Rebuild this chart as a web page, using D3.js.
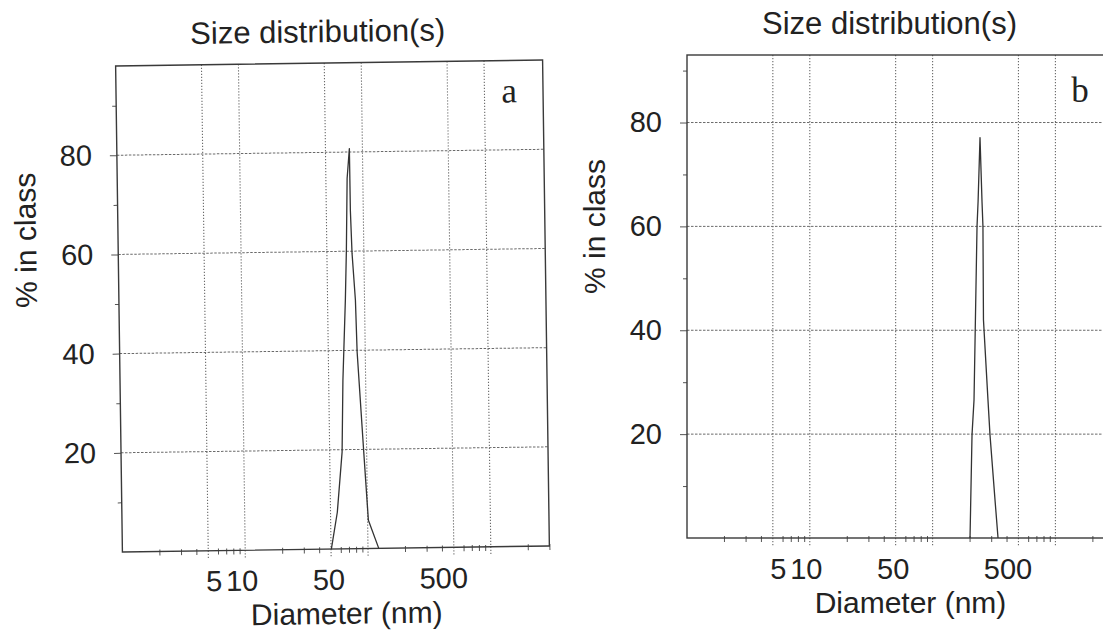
<!DOCTYPE html>
<html>
<head>
<meta charset="utf-8">
<script src="https://cdn.jsdelivr.net/npm/d3@7/dist/d3.min.js"></script>
<style>
  html, body { margin: 0; padding: 0; background: #fff; }
  svg { display: block; }
  text { font-family: "Liberation Sans", Arial, sans-serif; fill: #222; }
</style>
</head>
<body>
<svg id="chart" width="1103" height="632"></svg>
<script>
// Shared diameter axis (nm, log scale)
const diameterDomain = [1, 3000];
const diameterGrid = [5, 10, 50, 100, 500, 1000];
const diameterLabels = [5, 10, 50, 500];

// Percentage axis
const percentTicks = [20, 40, 60, 80];
const percentMinorTicks = [10, 30, 50, 70, 90];

// Sample a: size distribution
const diameterA = [50.3, 56.8, 63.1, 65.3, 69.8, 72.1, 74.5, 78.3, 78.5, 80.1, 84.3, 85.9, 94.7, 98.1, 101.5, 122.4];
const percentA  = [0, 7.4, 19.5, 34.0, 50.1, 60.2, 74.7, 80.7, 68.2, 59.6, 50.1, 39.6, 19.5, 12.4, 5.7, 0];

// Sample b: size distribution
const diameterB = [201.7, 209.4, 217.4, 230, 234.6, 243.2, 252.5, 257, 259.5, 282.4, 293.2, 322.3, 341];
const percentB  = [0, 19.9, 26.6, 60, 64.8, 77.1, 64.8, 60, 42, 26.6, 19.9, 7.3, 0];

const svg = d3.select("#chart");
svg.append("rect").attr("width", 1103).attr("height", 632).attr("fill", "#fff");

// Minor log ticks (2..9 per decade) not already on the grid
const minorDiameter = [];
for (let k = 0; k <= 3; k++) {
  for (let m = 2; m <= 9; m++) {
    const v = m * Math.pow(10, k);
    if (v <= diameterDomain[1] && !diameterGrid.includes(v)) minorDiameter.push(v);
  }
}

// The instrument printout packs the diameter labels together; small horizontal nudges
function labelNudge(v) {
  if (v === 5) return 5;
  if (v === 10) return -4;
  if (v === 50) return -3;
  if (v === 500) return -11;
  return 0;
}

function drawPanel(cfg, sizes, values) {
  const cx = (cfg.left + cfg.right) / 2;
  const cy = (cfg.top + cfg.bottom) / 2;
  const g = svg.append("g");
  if (cfg.rotate) g.attr("transform", `rotate(${cfg.rotate},${cx},${cy})`);

  const x = d3.scaleLog().domain(diameterDomain).range([cfg.left, cfg.right]);
  const y = d3.scaleLinear().domain([0, cfg.yMax]).range([cfg.bottom, cfg.top]);

  // horizontal dashed grid
  g.append("g").selectAll("line").data(percentTicks).join("line")
    .attr("x1", cfg.left).attr("x2", cfg.right)
    .attr("y1", d => y(d)).attr("y2", d => y(d))
    .attr("stroke", "#6a6a6a").attr("stroke-width", 1)
    .attr("stroke-dasharray", "2.5,1.5");

  // vertical dotted grid, running a little below the axis as major ticks
  g.append("g").selectAll("line").data(diameterGrid).join("line")
    .attr("x1", d => x(d)).attr("x2", d => x(d))
    .attr("y1", cfg.top).attr("y2", cfg.bottom + 8)
    .attr("stroke", "#6a6a6a").attr("stroke-width", 1.1)
    .attr("stroke-dasharray", "1.2,1.8");

  // y axis: major ticks + labels
  const yAxis = g.append("g").attr("transform", `translate(${cfg.left},0)`)
    .call(d3.axisLeft(y).tickValues(percentTicks).tickSize(7).tickPadding(18).tickFormat(d3.format("d")));
  yAxis.select(".domain").remove();
  yAxis.selectAll(".tick line").attr("stroke", "#555");
  yAxis.selectAll(".tick text").attr("font-size", 29).attr("fill", "#222")
    .attr("font-family", '"Liberation Sans", Arial, sans-serif');

  // y axis: minor ticks
  const yMinor = g.append("g").attr("transform", `translate(${cfg.left},0)`)
    .call(d3.axisLeft(y).tickValues(percentMinorTicks).tickSize(4).tickFormat(""));
  yMinor.select(".domain").remove();
  yMinor.selectAll(".tick line").attr("stroke", "#555");

  // x axis: minor ticks crossing the axis line
  const xMinor = g.append("g").attr("transform", `translate(0,${cfg.bottom - 2})`)
    .call(d3.axisBottom(x).tickValues(minorDiameter).tickSize(6).tickFormat(""));
  xMinor.select(".domain").remove();
  xMinor.selectAll(".tick line").attr("stroke", "#555");

  // x axis labels
  const xAxis = g.append("g").attr("transform", `translate(0,${cfg.bottom})`)
    .call(d3.axisBottom(x).tickValues(diameterLabels).tickSize(0).tickPadding(20).tickFormat(d3.format("d")));
  xAxis.select(".domain").remove();
  xAxis.selectAll(".tick text").attr("font-size", 29).attr("fill", "#222")
    .attr("font-family", '"Liberation Sans", Arial, sans-serif')
    .attr("dx", d => labelNudge(d));

  // frame
  g.append("rect")
    .attr("x", cfg.left).attr("y", cfg.top)
    .attr("width", cfg.right - cfg.left).attr("height", cfg.bottom - cfg.top)
    .attr("fill", "none").attr("stroke", "#3a3a3a").attr("stroke-width", 1.4);

  // distribution curve
  const pts = sizes.map((d, i) => [d, values[i]]);
  g.append("path")
    .datum(pts)
    .attr("fill", "none").attr("stroke", "#333").attr("stroke-width", 1.3)
    .attr("stroke-linejoin", "round")
    .attr("d", d3.line().x(d => x(d[0])).y(d => y(d[1])));

  // titles
  g.append("text").attr("x", cx - 11).attr("y", cfg.top - 21)
    .attr("text-anchor", "middle").attr("font-size", 31).text("Size distribution(s)");
  g.append("text").attr("x", cx + 10).attr("y", cfg.bottom + 75)
    .attr("text-anchor", "middle").attr("font-size", 30).text("Diameter (nm)");
  g.append("text")
    .attr("transform", `translate(${cfg.left - 82},${cy - 70}) rotate(-90)`)
    .attr("text-anchor", "middle").attr("font-size", 30).text("% in class");

  // panel letter
  g.append("text").attr("x", cfg.right - 34).attr("y", cfg.top + cfg.letterDy)
    .attr("text-anchor", "middle").attr("font-size", 35)
    .style("font-family", '"Liberation Serif", "Times New Roman", serif')
    .text(cfg.letter);
}

drawPanel({ left: 119, right: 546, top: 63, bottom: 549, yMax: 98, rotate: -0.8, letter: "a", letterDy: 42 },
  diameterA, percentA);
drawPanel({ left: 687, right: 1114, top: 55, bottom: 538, yMax: 93, rotate: 0, letter: "b", letterDy: 47 },
  diameterB, percentB);
</script>
</body>
</html>
